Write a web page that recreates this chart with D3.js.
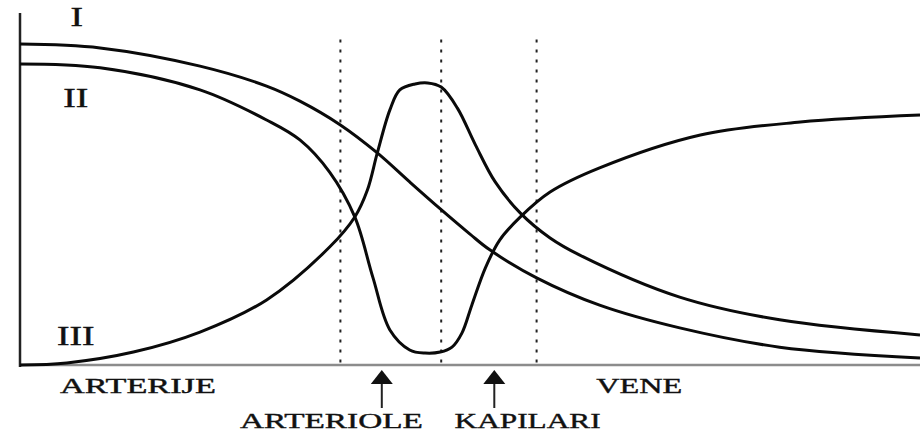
<!DOCTYPE html>
<html>
<head>
<meta charset="utf-8">
<script src="https://cdn.jsdelivr.net/npm/d3@7/dist/d3.min.js"></script>
<style>
  body { margin: 0; background: #fff; }
  text { font-family: "Liberation Serif", "Times New Roman", serif; fill: #111; }
</style>
</head>
<body>
<div id="chart"></div>
<script>
// positions along the vascular tree (0..100) and relative level (0..100)
var pressureX  = [0, 8.9, 20, 27.4, 31.1, 35.6, 39.7, 43.3, 46.7, 50, 52.2, 57.4, 64.4, 73.3, 84.4, 100];
var pressureY  = [91.7, 90.6, 85.4, 79.7, 75.4, 68.6, 60.6, 52.3, 44.6, 37.4, 32.9, 24.9, 17.1, 10.6, 5.1, 2];

var velocityX  = [0, 8.9, 20, 27.4, 31.1, 34.4, 37.2, 39.2, 41.1, 43.3, 45, 46.7, 48, 49.1, 50.2, 51.7, 53.3, 55.6, 58.9, 64.4, 75.6, 86.7, 100];
var velocityY  = [86, 84.9, 78.6, 70, 64.3, 55.1, 42.3, 25.1, 10, 4.3, 3.4, 3.7, 5.1, 9.1, 17.1, 27.7, 35.7, 42.3, 49.4, 56.3, 65.7, 69.4, 71.4];

var areaX      = [0, 5.2, 12.6, 20, 27.4, 34.4, 37.2, 38.6, 39.7, 41.1, 42.2, 43.9, 45.3, 46.8, 48.6, 50.6, 52.8, 55.6, 58.9, 62.2, 73.3, 84.4, 100];
var areaY      = [0, 0.6, 3.7, 9.4, 18.6, 33.7, 42.3, 50, 60.6, 72.9, 78.6, 80.3, 80.6, 79.4, 73.4, 62.9, 52.3, 43.4, 36.3, 31.4, 19.4, 12.9, 8.6];

// boundaries between the vessel segments (dotted lines)
var boundaries = [35.6, 46.8, 57.4];
var boundaryTop = 93;

// curve labels
var curveNames = ["I", "II", "III"];
var curveNameX = [6.3, 6.2, 6.2];
var curveNameY = [96.9, 73.7, 5.7];

// segment labels under the axis
var segNames = ["ARTERIJE", "VENE"];
var segX = [13.1, 68.8];
var arrowNames = ["ARTERIOLE", "KAPILARI"];
var arrowLabelX = [34.6, 56.4];
var arrowX = [40.2, 52.7];

var width = 920, height = 432;
var margin = {top: 15, right: 0, bottom: 67, left: 20};

var svg = d3.select("#chart")
    .append("svg")
    .attr("width", width)
    .attr("height", height);

var x = d3.scaleLinear()
    .domain([0, 100])
    .range([margin.left, width - margin.right]);

var y = d3.scaleLinear()
    .domain([0, 100])
    .range([height - margin.bottom, margin.top]);

// dotted boundaries
svg.selectAll(".bound")
    .data(boundaries)
    .enter()
    .append("line")
    .attr("x1", function(d) { return x(d); })
    .attr("x2", function(d) { return x(d); })
    .attr("y1", y(boundaryTop))
    .attr("y2", y(0))
    .style("stroke", "#222")
    .style("stroke-width", 2)
    .style("stroke-dasharray", "3,7");

// x axis (grey) and y axis (black)
svg.append("line")
    .attr("x1", x(0)).attr("x2", x(100))
    .attr("y1", y(0)).attr("y2", y(0))
    .style("stroke", "#8c8c8c")
    .style("stroke-width", 2.5);

svg.append("line")
    .attr("x1", x(0)).attr("x2", x(0))
    .attr("y1", y(0) + 2).attr("y2", y(100) - 2)
    .style("stroke", "#222")
    .style("stroke-width", 2.5);

// the three curves
var line = d3.line()
    .x(function(d) { return x(d[0]); })
    .y(function(d) { return y(d[1]); })
    .curve(d3.curveCatmullRom.alpha(0.5));

var series = [
    d3.zip(pressureX, pressureY),
    d3.zip(velocityX, velocityY),
    d3.zip(areaX, areaY)
];

svg.selectAll(".curve")
    .data(series)
    .enter()
    .append("path")
    .attr("d", line)
    .style("fill", "none")
    .style("stroke", "#0a0a0a")
    .style("stroke-width", 3);

// roman numeral labels
svg.selectAll(".cname")
    .data(curveNames)
    .enter()
    .append("text")
    .attr("x", function(d, i) { return x(curveNameX[i]); })
    .attr("y", function(d, i) { return y(curveNameY[i]); })
    .attr("text-anchor", "middle")
    .attr("textLength", function(d) { return d.length * 12.5; })
    .attr("lengthAdjust", "spacingAndGlyphs")
    .style("font-size", "27px")
    .style("stroke", "#111")
    .style("stroke-width", 0.4)
    .text(function(d) { return d; });

// segment labels
svg.selectAll(".seg")
    .data(segNames)
    .enter()
    .append("text")
    .attr("x", function(d, i) { return x(segX[i]); })
    .attr("y", 393)
    .attr("text-anchor", "middle")
    .attr("textLength", function(d) { return d == "VENE" ? 86 : 156; })
    .attr("lengthAdjust", "spacingAndGlyphs")
    .style("font-size", "22px")
    .style("stroke", "#111")
    .style("stroke-width", 0.4)
    .text(function(d) { return d; });

svg.selectAll(".alabel")
    .data(arrowNames)
    .enter()
    .append("text")
    .attr("x", function(d, i) { return x(arrowLabelX[i]); })
    .attr("y", 428)
    .attr("text-anchor", "middle")
    .attr("textLength", function(d) { return d == "ARTERIOLE" ? 183 : 146; })
    .attr("lengthAdjust", "spacingAndGlyphs")
    .style("font-size", "22px")
    .style("stroke", "#111")
    .style("stroke-width", 0.4)
    .text(function(d) { return d; });

// arrows pointing up to the axis
var arrows = svg.selectAll(".arrow")
    .data(arrowX)
    .enter()
    .append("g")
    .attr("transform", function(d) { return "translate(" + x(d) + ",0)"; });

arrows.append("line")
    .attr("x1", 0).attr("x2", 0)
    .attr("y1", 380).attr("y2", 408)
    .style("stroke", "#222")
    .style("stroke-width", 2);

arrows.append("path")
    .attr("d", "M0,370 L11,384 L-11,384 Z")
    .style("fill", "#111");
</script>
</body>
</html>
